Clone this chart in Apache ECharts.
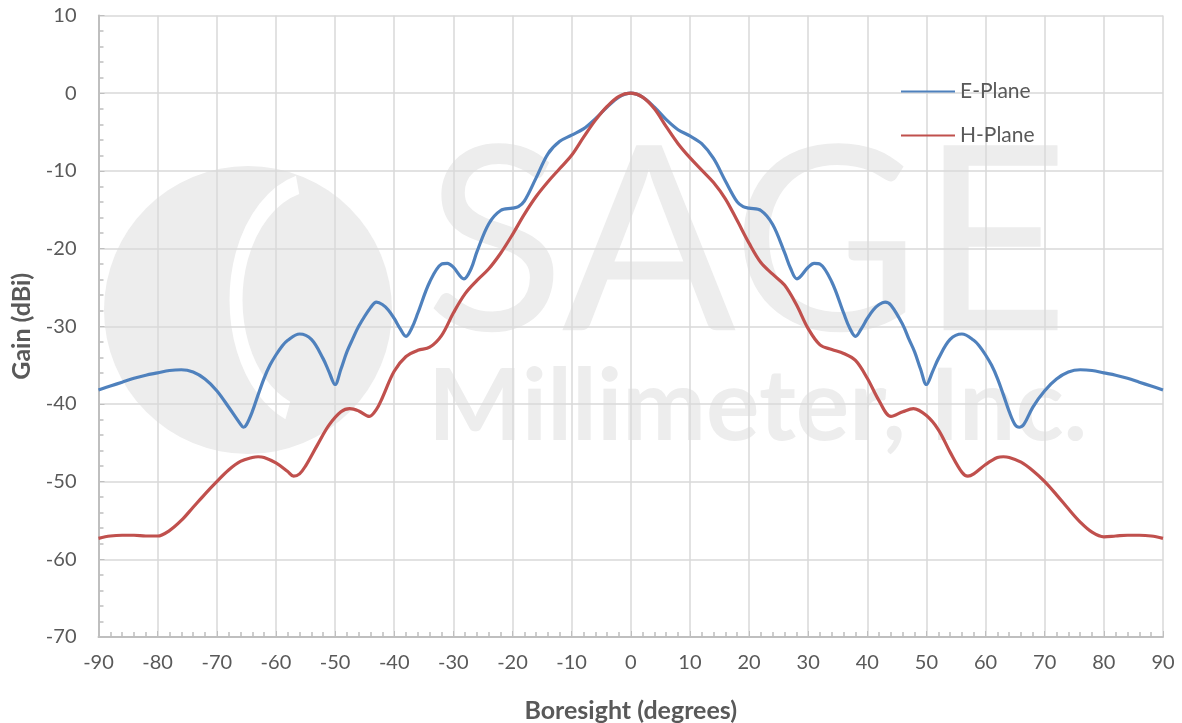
<!DOCTYPE html>
<html>
<head>
<meta charset="utf-8">
<script src="https://cdn.jsdelivr.net/npm/echarts@6/dist/echarts.min.js"></script>
<style>
html,body{margin:0;padding:0;background:#fff;}
#chart{width:1182px;height:723px;}
</style>
</head>
<body>
<div id="chart"></div>
<script>
// E-Plane (blue) angles and gains
const eAngles = [-90,-88,-86,-84,-82,-80,-78,-76,-74,-72,-70,-68,-66,-65.5,-65,-64,-63,-62,-61,-60,-59,-58,-56,-54,-52,-51,-50,-49,-48,-47,-46,-44,-43,-42,-41,-40,-39,-38,-37,-36,-34,-32,-31,-30,-28.2,-27,-26,-24,-22,-20,-19,-18,-16,-14,-12,-10,-8,-6,-4,-2,0,
  2,4,6,8,10,12,14,16,18,19,20,22,24,26,27,28.1,30,31,32,34,36,37,38,39,40,41,42,43,44,46,47,48,49,50,51,52,54,56,58,59,60,61,62,63,64,65,65.7,66.5,68,70,72,74,76,78,80,82,84,86,88,90];
const eGain = [-38.2,-37.7,-37.2,-36.7,-36.3,-36.0,-35.7,-35.6,-35.9,-36.8,-38.3,-40.4,-42.6,-43.0,-42.7,-41.0,-38.8,-36.7,-35.0,-33.7,-32.6,-31.8,-31.0,-31.7,-34.2,-35.9,-37.5,-35.5,-33.3,-31.6,-30.0,-27.6,-26.9,-27.2,-27.9,-29.0,-30.3,-31.3,-30.2,-28.3,-24.3,-22.0,-21.9,-22.4,-23.9,-22.6,-20.4,-16.8,-15.1,-14.8,-14.6,-13.9,-10.9,-7.8,-6.2,-5.4,-4.6,-3.3,-1.8,-0.5,0,
  -0.5,-1.8,-3.4,-4.7,-5.5,-6.5,-8.4,-11.3,-14.0,-14.6,-14.8,-15.1,-16.9,-20.5,-22.5,-23.9,-22.4,-21.9,-22.0,-24.3,-28.3,-30.2,-31.3,-30.3,-29.0,-27.9,-27.2,-26.9,-27.3,-29.8,-31.6,-33.3,-35.5,-37.5,-35.9,-34.2,-31.7,-31.0,-31.8,-32.6,-33.7,-35.0,-36.7,-38.8,-41.0,-42.7,-43.0,-42.6,-40.4,-38.3,-36.8,-35.9,-35.6,-35.7,-36.0,-36.3,-36.7,-37.2,-37.7,-38.2];

// H-Plane (red) angles and gains
const hAngles = [-90,-88,-86,-84,-82,-80,-78,-76,-74,-72,-70,-68,-66,-64,-63,-62,-60,-58,-57,-56,-55,-53,-51,-49,-47.5,-46,-44.2,-43,-42,-40,-38,-36,-34,-32,-30,-28,-26,-24,-22,-20,-18,-16,-14,-12,-10,-8,-6,-4,-2,0,
  2,4,6,8,10,12,14,16,18,20,22,24,26,28,30,32,34,36,38,40,42,44,46,47.8,50,52,54,56,57,58,60,62,63,64,66,68,70,72,74,76,78,80,82,84,86,88,90];
const hGain = [-57.3,-57.0,-56.9,-56.9,-57.0,-57.0,-56.3,-55.0,-53.3,-51.6,-50.0,-48.5,-47.4,-46.9,-46.8,-46.9,-47.6,-48.7,-49.3,-49.0,-48.0,-45.3,-42.7,-41.0,-40.6,-40.9,-41.6,-40.7,-39.2,-35.8,-33.9,-33.1,-32.7,-31.2,-28.3,-25.8,-24.1,-22.6,-20.6,-18.2,-15.6,-13.3,-11.4,-9.7,-8.0,-5.7,-3.5,-1.7,-0.4,0,
  -0.5,-2.0,-4.3,-6.5,-8.3,-9.9,-11.5,-13.6,-16.4,-19.3,-21.8,-23.3,-24.7,-27.2,-30.3,-32.4,-33.0,-33.5,-34.4,-36.7,-39.6,-41.6,-41.0,-40.6,-41.5,-43.3,-46.2,-48.8,-49.3,-49.0,-47.8,-46.9,-46.8,-46.9,-47.5,-48.6,-50.0,-51.7,-53.5,-55.2,-56.5,-57.1,-57.0,-56.9,-56.9,-57.0,-57.3];

const seriesNames = ['E-Plane','H-Plane'];
const xTitle = 'Boresight (degrees)';
const yTitle = 'Gain (dBi)';

const chart = echarts.init(document.getElementById('chart'), null, {renderer:'canvas'});
const font = 'Lato, "Open Sans", sans-serif';
const wm = '#ededed';
chart.setOption({
  animation:false,
  backgroundColor:'#fff',
  textStyle:{fontFamily:font},
  graphic:[
    {type:'circle', z:-10, shape:{cx:248,cy:310,r:144}, style:{fill:wm}},
    {type:'arc', z:-9, x:318, y:300, scaleY:1.45, shape:{cx:0,cy:0,r:82,startAngle:Math.PI*0.62,endAngle:Math.PI*1.42}, style:{fill:'none',stroke:'#fff',lineWidth:13}},
    {type:'text', z:-10, left:425, top:118, style:{text:'SAGE', fill:wm, font:'normal 258px Lato'}},
    {type:'text', z:-10, left:428, top:358, style:{text:'Millimeter, Inc.', fill:wm, font:'bold 100px Lato'}}
  ],
  grid:{left:98.5, right:19, top:15.5, bottom:86, containLabel:false, outerBoundsMode:'none'},
  legend:{
    data:seriesNames, orient:'vertical', left:896, top:76,
    itemWidth:54, itemHeight:22, itemGap:23,
    textStyle:{fontSize:21, color:'#595959', fontFamily:font},
    icon:'path://M0,10 L54,10 L54,12 L0,12 Z'
  },
  xAxis:{
    type:'value', min:-90, max:90, interval:10,
    name:xTitle, nameLocation:'middle', nameGap:61,
    nameTextStyle:{fontSize:25, fontWeight:'bold', color:'#595959'},
    axisLine:{show:true, onZero:false, lineStyle:{color:'#bfbfbf', width:2}},
    axisTick:{show:true, inside:true, length:6, lineStyle:{color:'#bfbfbf'}},
    minorTick:{show:true, splitNumber:5, length:5, lineStyle:{color:'#bfbfbf', width:1.5}},
    axisLabel:{fontSize:20, color:'#595959', margin:16},
    splitLine:{show:true, lineStyle:{color:'#d9d9d9', width:1.5}}
  },
  yAxis:{
    type:'value', min:-70, max:10, interval:10,
    name:yTitle, nameLocation:'middle', nameGap:64, nameRotate:90,
    nameTextStyle:{fontSize:25, fontWeight:'bold', color:'#595959'},
    axisLine:{show:true, onZero:false, lineStyle:{color:'#bfbfbf', width:2}},
    axisTick:{show:true, inside:true, length:6, lineStyle:{color:'#bfbfbf'}},
    minorTick:{show:true, splitNumber:5, length:5, lineStyle:{color:'#bfbfbf', width:1.5}},
    axisLabel:{fontSize:20, color:'#595959', margin:22},
    splitLine:{show:true, lineStyle:{color:'#d9d9d9', width:1.5}}
  },
  series:[
    {name:seriesNames[0], type:'line', smooth:0.35, symbol:'none', z:3,
     lineStyle:{color:'#4F81BD', width:3.2}, itemStyle:{color:'#4F81BD'},
     data:eAngles.map((a,i)=>[a,eGain[i]])},
    {name:seriesNames[1], type:'line', smooth:0.35, symbol:'none', z:4,
     lineStyle:{color:'#C0504D', width:3.2}, itemStyle:{color:'#C0504D'},
     data:hAngles.map((a,i)=>[a,hGain[i]])}
  ]
});
</script>
</body>
</html>
